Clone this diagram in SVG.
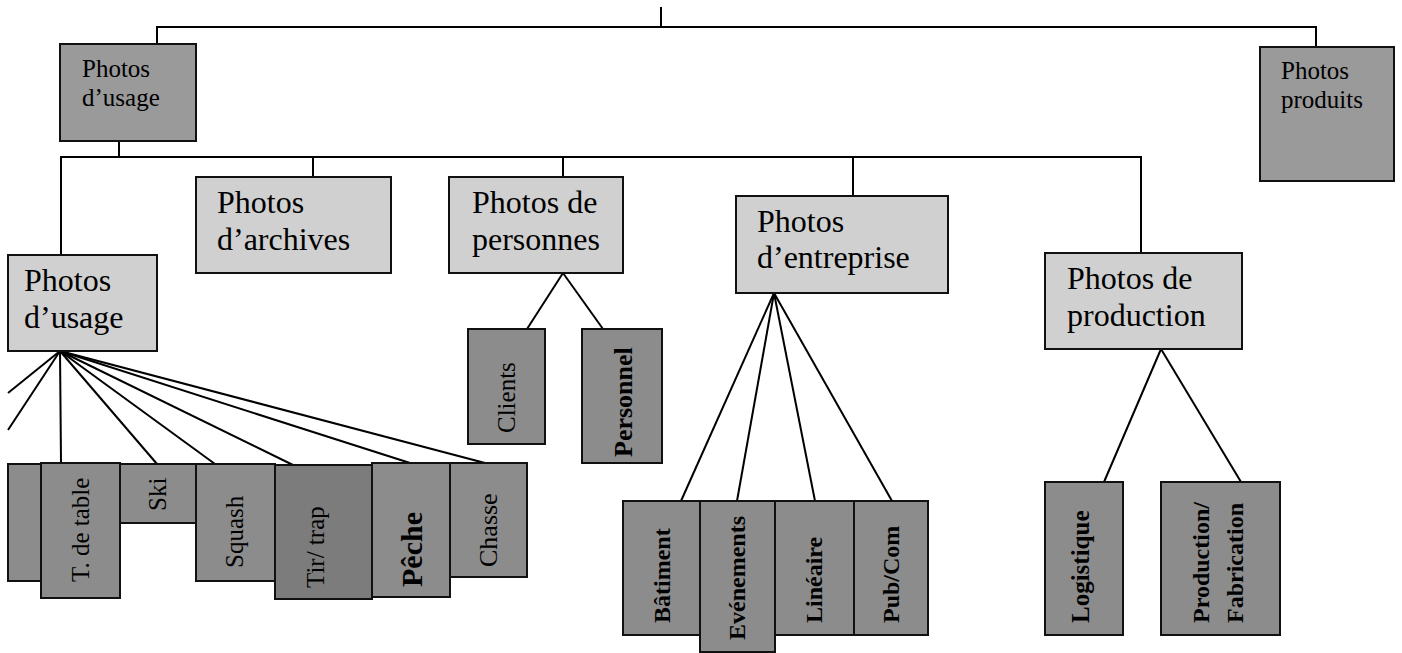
<svg xmlns="http://www.w3.org/2000/svg" width="1402" height="653" viewBox="0 0 1402 653">
<style>
  .ln { stroke: #000; stroke-width: 2; fill: none; }
  .top { fill: #9a9a9a; stroke: #111; stroke-width: 2; }
  .mid { fill: #d0d0d0; stroke: #111; stroke-width: 2; }
  .leaf { fill: #8c8c8c; stroke: #111; stroke-width: 2; }
  .leafd { fill: #7c7c7c; stroke: #111; stroke-width: 2; }
  text { font-family: "Liberation Serif", "Times New Roman", serif; fill: #000; }
  .t1 { font-size: 25px; }
  .t2 { font-size: 32px; }
  .t3 { font-size: 25px; }
  .b { font-weight: bold; font-size: 24px; }
</style>
<rect width="1402" height="653" fill="#fff"/>
<g id="connectors">
  <line class="ln" x1="661" y1="7" x2="661" y2="27"/>
  <polyline class="ln" points="157,44 157,27 1316,27 1316,47"/>
  <line class="ln" x1="119" y1="141" x2="119" y2="157"/>
  <polyline class="ln" points="61,255 61,157 1141,157 1141,253"/>
  <line class="ln" x1="313" y1="157" x2="313" y2="177"/>
  <line class="ln" x1="563" y1="157" x2="563" y2="177"/>
  <line class="ln" x1="853" y1="157" x2="853" y2="196"/>
  <line class="ln" x1="60" y1="351" x2="8" y2="393"/>
  <line class="ln" x1="60" y1="351" x2="8" y2="430"/>
  <line class="ln" x1="60" y1="351" x2="61" y2="463"/>
  <line class="ln" x1="60" y1="351" x2="157" y2="464"/>
  <line class="ln" x1="60" y1="351" x2="215" y2="464"/>
  <line class="ln" x1="60" y1="351" x2="293" y2="465"/>
  <line class="ln" x1="60" y1="351" x2="410" y2="463"/>
  <line class="ln" x1="60" y1="351" x2="485" y2="463"/>
  <line class="ln" x1="563" y1="273" x2="527" y2="329"/>
  <line class="ln" x1="563" y1="273" x2="603" y2="329"/>
  <line class="ln" x1="774" y1="293" x2="681" y2="501"/>
  <line class="ln" x1="774" y1="293" x2="737" y2="501"/>
  <line class="ln" x1="774" y1="293" x2="815" y2="501"/>
  <line class="ln" x1="774" y1="293" x2="892" y2="501"/>
  <line class="ln" x1="1161" y1="349" x2="1104" y2="482"/>
  <line class="ln" x1="1161" y1="349" x2="1241" y2="482"/>
</g>
<g id="n-usage-top">
  <rect class="top" x="60" y="44" width="136" height="97"/>
  <text class="t1" x="82" y="77">Photos</text>
  <text class="t1" x="82" y="106">d’usage</text>
</g>
<g id="n-produits">
  <rect class="top" x="1260" y="47" width="134" height="134"/>
  <text class="t1" x="1281" y="79">Photos</text>
  <text class="t1" x="1281" y="108">produits</text>
</g>
<g id="n-usage">
  <rect class="mid" x="8" y="255" width="149" height="96"/>
  <text class="t2" x="24" y="291">Photos</text>
  <text class="t2" x="24" y="328">d’usage</text>
</g>
<g id="n-archives">
  <rect class="mid" x="196" y="177" width="195" height="96"/>
  <text class="t2" x="217" y="213">Photos</text>
  <text class="t2" x="217" y="250">d’archives</text>
</g>
<g id="n-personnes">
  <rect class="mid" x="449" y="177" width="174" height="96"/>
  <text class="t2" x="472" y="213">Photos de</text>
  <text class="t2" x="472" y="250">personnes</text>
</g>
<g id="n-entreprise">
  <rect class="mid" x="736" y="196" width="212" height="97"/>
  <text class="t2" x="757" y="232">Photos</text>
  <text class="t2" x="757" y="268">d’entreprise</text>
</g>
<g id="n-production">
  <rect class="mid" x="1045" y="253" width="197" height="96"/>
  <text class="t2" x="1067" y="289">Photos de</text>
  <text class="t2" x="1067" y="326">production</text>
</g>
<g id="n-partial">
  <rect class="leaf" x="8" y="464" width="33" height="117"/>
</g>
<g id="n-ski">
  <rect class="leaf" x="120" y="464" width="76" height="59"/>
  <text class="t3" transform="translate(166,511) rotate(-90)">Ski</text>
</g>
<g id="n-squash">
  <rect class="leaf" x="196" y="464" width="79" height="117"/>
  <text class="t3" transform="translate(243,568) rotate(-90)">Squash</text>
</g>
<g id="n-chasse">
  <rect class="leaf" x="450" y="463" width="77" height="114"/>
  <text class="t3" style="font-size:26px" transform="translate(497,567) rotate(-90)">Chasse</text>
</g>
<g id="n-peche">
  <rect class="leaf" x="372" y="463" width="78" height="134"/>
  <text class="b" style="font-size:30px" transform="translate(422,587) rotate(-90)">Pêche</text>
</g>
<g id="n-tir">
  <rect class="leafd" x="275" y="465" width="97" height="134"/>
  <text class="t3" transform="translate(324,588) rotate(-90)">Tir/ trap</text>
</g>
<g id="n-tdetable">
  <rect class="leaf" x="41" y="463" width="79" height="135"/>
  <text class="t3" transform="translate(89,582) rotate(-90)">T. de table</text>
</g>
<g id="n-clients">
  <rect class="leaf" x="468" y="329" width="77" height="115"/>
  <text class="t3" transform="translate(515,433) rotate(-90)">Clients</text>
</g>
<g id="n-personnel">
  <rect class="leaf" x="582" y="329" width="80" height="134"/>
  <text class="b" style="font-size:26px" transform="translate(632,457) rotate(-90)">Personnel</text>
</g>
<g id="n-batiment">
  <rect class="leaf" x="623" y="501" width="77" height="134"/>
  <text class="b" transform="translate(670,623) rotate(-90)">Bâtiment</text>
</g>
<g id="n-lineaire">
  <rect class="leaf" x="775" y="501" width="79" height="134"/>
  <text class="b" transform="translate(822,623) rotate(-90)">Linéaire</text>
</g>
<g id="n-pubcom">
  <rect class="leaf" x="854" y="501" width="74" height="134"/>
  <text class="b" transform="translate(899,623) rotate(-90)">Pub/Com</text>
</g>
<g id="n-evenements">
  <rect class="leaf" x="700" y="501" width="75" height="151"/>
  <text class="b" transform="translate(745,640) rotate(-90)">Evénements</text>
</g>
<g id="n-logistique">
  <rect class="leaf" x="1045" y="482" width="78" height="153"/>
  <text class="b" style="font-size:25px" transform="translate(1089,623) rotate(-90)">Logistique</text>
</g>
<g id="n-prodfab">
  <rect class="leaf" x="1161" y="482" width="119" height="153"/>
  <text class="b" transform="translate(1209,623) rotate(-90)">Production/</text>
  <text class="b" transform="translate(1243,623) rotate(-90)">Fabrication</text>
</g>
</svg>
